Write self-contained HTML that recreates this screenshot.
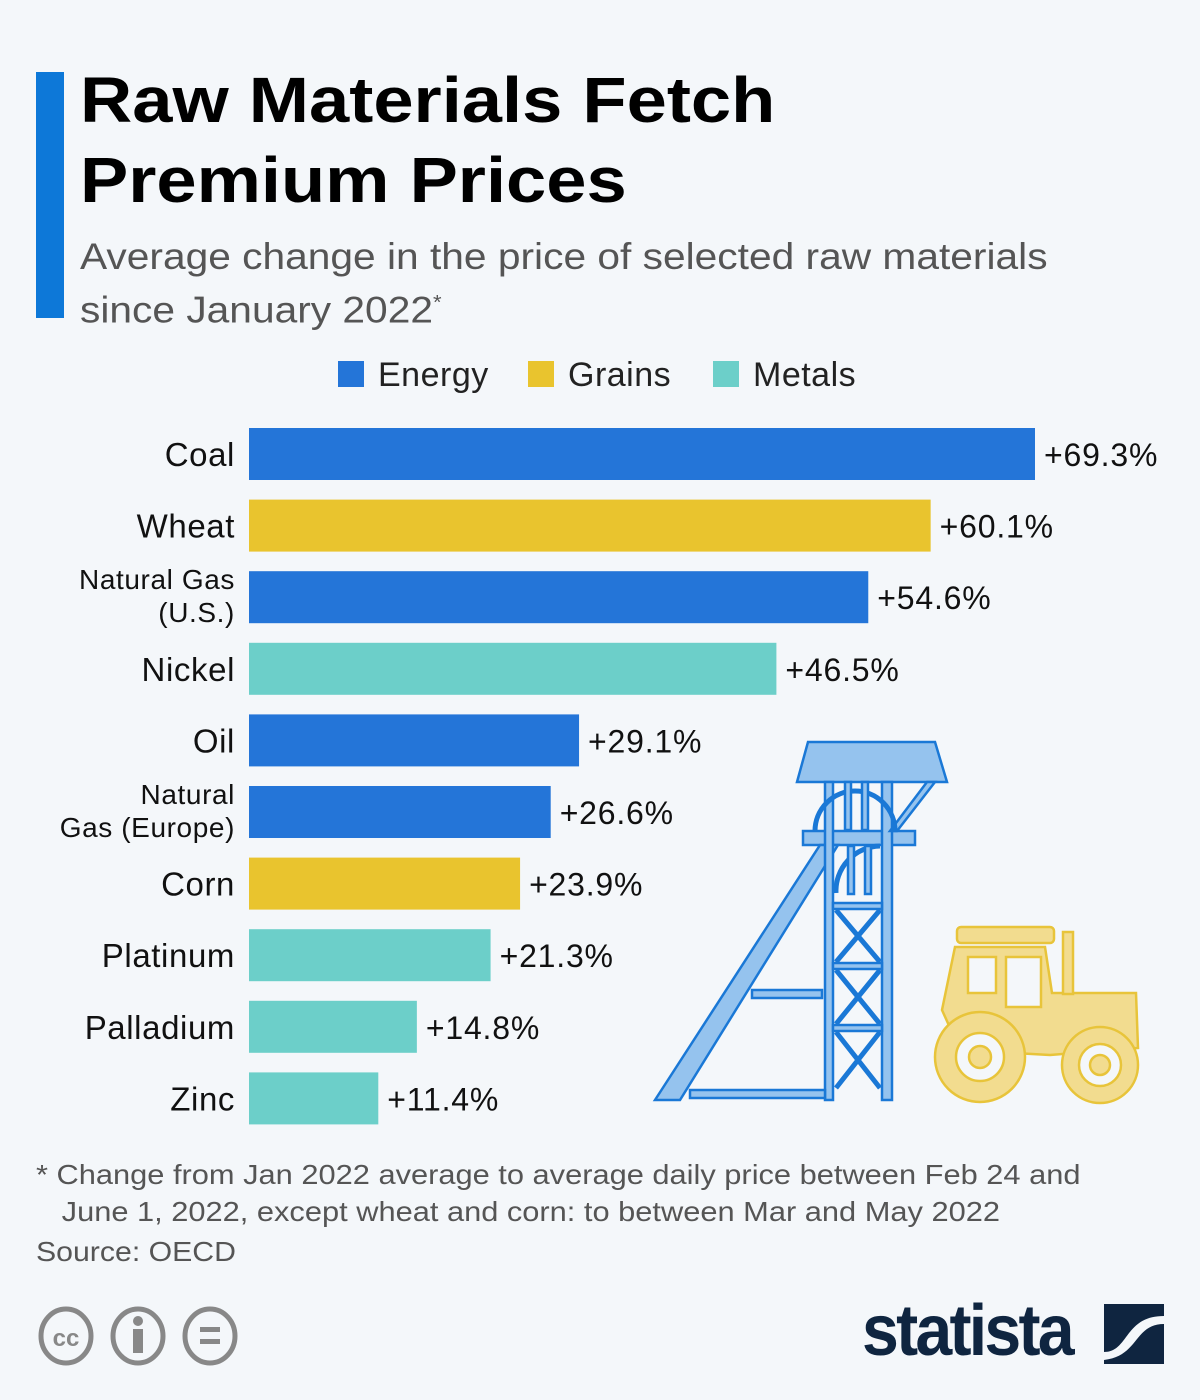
<!DOCTYPE html>
<html><head><meta charset="utf-8"><style>
body{margin:0;background:#f4f7fa;font-family:"Liberation Sans","DejaVu Sans",sans-serif;}
#wrap{position:relative;width:1200px;height:1400px;overflow:hidden;background:#f4f7fa;}
.t{position:absolute;}
</style></head><body>
<div id="wrap">
<div class="t" style="left:36px;top:72px;width:28px;height:246px;background:#0d78d8"></div>
<div class="t" style="left:80px;top:60px;font-size:64px;font-weight:bold;line-height:80px;color:#000;transform:scaleX(1.13);transform-origin:left top;white-space:nowrap">Raw Materials Fetch<br>Premium Prices</div>
<div class="t" style="left:80px;top:233px;font-size:37px;line-height:47px;color:#555;transform:scaleX(1.1);transform-origin:left top;white-space:nowrap">Average change in the price of selected raw materials<br>since January 2022<sup style="font-size:20px">*</sup></div>
<svg id="chart" class="t" style="left:0;top:0" width="1200" height="1400"></svg>
<div class="t" style="left:36px;top:1156px;font-size:28px;line-height:37px;color:#555;transform:scaleX(1.1);transform-origin:left top;white-space:nowrap">* Change from Jan 2022 average to average daily price between Feb 24 and<br>&nbsp;&nbsp;&nbsp;June 1, 2022, except wheat and corn: to between Mar and May 2022</div>
<div class="t" style="left:36px;top:1236px;font-size:28px;color:#555;transform:scaleX(1.08);transform-origin:left top">Source: OECD</div>
<svg class="t" style="left:30px;top:1300px" width="220" height="80">
<g fill="none" stroke="#888" stroke-width="5"><ellipse cx="36" cy="36" rx="25" ry="27"/><ellipse cx="108" cy="36" rx="25" ry="27"/><ellipse cx="180" cy="36" rx="25" ry="27"/></g>
<text x="36" y="46" text-anchor="middle" font-size="24" font-weight="bold" fill="#888" font-family="Liberation Sans">cc</text>
<rect x="103" y="29" width="10" height="24" fill="#888"/><circle cx="108" cy="21" r="5" fill="#888"/>
<rect x="170" y="27" width="20" height="5" fill="#888"/><rect x="170" y="39" width="20" height="5" fill="#888"/>
</svg>
<div class="t" style="left:862px;top:1290px;font-size:72px;font-weight:bold;color:#0f2540;letter-spacing:-3px;transform:scaleX(0.92);transform-origin:left">statista</div>
<svg class="t" style="left:1104px;top:1304px" width="60" height="60"><rect width="60" height="60" fill="#0f2540"/><path d="M0 48 C25 48 20 12 60 12 L60 20 C30 20 35 52 0 56Z" fill="#f4f7fa"/></svg>
</div>
<script>
const categories=["Coal","Wheat","Natural Gas|(U.S.)","Nickel","Oil","Natural|Gas (Europe)","Corn","Platinum","Palladium","Zinc"];
const values=[69.3,60.1,54.6,46.5,29.1,26.6,23.9,21.3,14.8,11.4];
const groups=["Energy","Grains","Energy","Metals","Energy","Energy","Grains","Metals","Metals","Metals"];
const legendItems=["Energy","Grains","Metals"];
const colors={Energy:"#2475d8",Grains:"#e9c42e",Metals:"#6ccfc9"};
const NS="http://www.w3.org/2000/svg";
const svg=document.getElementById("chart");
const x0=249,scale=(1035-249)/69.3;
const xs=v=>x0+v*scale;
const ys=i=>428+i*71.6;
const bh=52;
function mk(t,a){const e=document.createElementNS(NS,t);for(const k in a)e.setAttribute(k,a[k]);svg.appendChild(e);return e;}
const legX=[338,528,713];
legendItems.forEach((g,i)=>{
 const r=mk("rect",{x:legX[i],y:361,width:26,height:26,fill:colors[g]});
 
 
 const t=mk("text",{x:legX[i]+40,y:386,"font-size":34,fill:"#222","font-family":"Liberation Sans","letter-spacing":"0.5"});
 t.textContent=g;
 
 
});
values.forEach((v,i)=>{
 const y=ys(i);
 const r=mk("rect",{x:x0,y:y,width:xs(v)-x0,height:bh,fill:colors[groups[i]]});
 
 
 const vt=mk("text",{x:xs(v)+9,y:y+38,"font-size":32,fill:"#111","font-family":"Liberation Sans","letter-spacing":"0.8"});
 vt.textContent="+"+v.toFixed(1)+"%";
 
 
 const parts=categories[i].split("|");
 const lt=mk("text",{x:235,"text-anchor":"end",fill:"#111","font-family":"Liberation Sans","letter-spacing":"0.6"});
 
 
 if(parts.length===1){lt.setAttribute("y",y+38);lt.setAttribute("font-size",33);lt.textContent=parts[0];}
 else{lt.setAttribute("font-size",28);parts.forEach((p,j)=>{const ts=document.createElementNS(NS,"tspan");ts.setAttribute("x",235);ts.setAttribute("y",y+18+j*33);ts.textContent=p;lt.appendChild(ts);});}
});
const ill=document.createElementNS(NS,"g");


ill.innerHTML=`
<g fill="#95c3ee" stroke="#1a78d6" stroke-width="2.5">
<path d="M808 742 L935 742 L947 782 L797 782 Z"/>
<rect x="803" y="831" width="112" height="14"/>
<path d="M655 1100 L820 845 L838 845 L680 1100 Z"/>
<rect x="825" y="782" width="8" height="318"/><rect x="882" y="782" width="10" height="318"/>
<rect x="752" y="990" width="70" height="8"/>
<rect x="690" y="1090" width="135" height="8"/>
<path d="M935 782 L897 831 L890 831 L927 782Z"/>
<path d="M815 831 A38 38 0 0 1 895 831" fill="none" stroke-width="5"/>
<path d="M836 893 A45 45 0 0 1 880 846" fill="none" stroke-width="5"/>
<rect x="845" y="782" width="6" height="48"/><rect x="862" y="782" width="6" height="48"/>
<rect x="848" y="846" width="6" height="48"/><rect x="865" y="846" width="6" height="48"/>
<rect x="833" y="903" width="49" height="6"/><rect x="833" y="963" width="49" height="6"/><rect x="833" y="1025" width="49" height="6"/>
<path d="M836 910 L880 962 M880 910 L836 962 M836 970 L880 1024 M880 970 L836 1024 M836 1032 L880 1088 M880 1032 L836 1088" stroke-width="5"/>
</g>
<g fill="#f2dc8f" stroke="#e8c43a" stroke-width="2.5">
<rect x="957" y="927" width="97" height="16" rx="4"/>
<path d="M955 947 L1045 947 L1052 993 L1136 993 L1138 1048 L1050 1055 L960 1050 L942 1010 Z"/>
<rect x="1063" y="932" width="10" height="62"/>
<rect x="968" y="957" width="28" height="36" fill="#f4f7fa"/><rect x="1006" y="957" width="35" height="50" fill="#f4f7fa"/>
<circle cx="980" cy="1057" r="45"/><circle cx="980" cy="1057" r="24" fill="#f4f7fa"/><circle cx="980" cy="1057" r="11"/>
<circle cx="1100" cy="1065" r="38"/><circle cx="1100" cy="1065" r="21" fill="#f4f7fa"/><circle cx="1100" cy="1065" r="10"/>
</g>`;
svg.appendChild(ill);
</script>
</body></html>
